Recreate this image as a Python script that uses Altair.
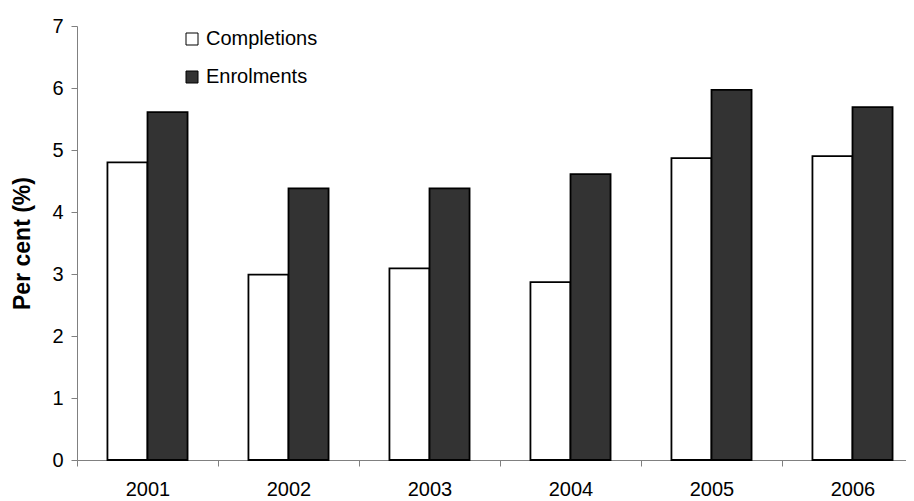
import altair as alt
import pandas as pd

years = ["2001", "2002", "2003", "2004", "2005", "2006"]
series = ["Completions", "Enrolments"]
completions = [4.80, 2.99, 3.09, 2.87, 4.87, 4.90]
enrolments = [5.61, 4.38, 4.38, 4.61, 5.97, 5.69]
y_ticks = [0, 1, 2, 3, 4, 5, 6, 7]

rows = []
for i, yr in enumerate(years):
    rows.append({"year": yr, "series": "Completions", "value": completions[i]})
    rows.append({"year": yr, "series": "Enrolments", "value": enrolments[i]})
df = pd.DataFrame(rows)

font = "Liberation Sans"

chart = alt.Chart(df).mark_bar(stroke="black", strokeWidth=1.8).encode(
    x=alt.X(
        "year:N", sort=years, title=None,
        scale=alt.Scale(range=[0, 846], paddingInner=0, paddingOuter=0),
        axis=alt.Axis(labelAngle=0, tickBand="extent", labelFontSize=20, labelFont=font,
                      labelColor="black", domainColor="#808080", tickColor="#808080",
                      tickSize=6, labelPadding=13, grid=False),
    ),
    xOffset=alt.XOffset("series:N", sort=series,
                        scale=alt.Scale(paddingOuter=0.76, paddingInner=0)),
    y=alt.Y(
        "value:Q", title="Per cent (%)",
        scale=alt.Scale(domain=[0, 7], nice=False),
        axis=alt.Axis(values=y_ticks, tickSize=6, labelPadding=8, grid=False,
                      labelFontSize=20, labelFont=font, labelColor="black",
                      domainColor="#808080", tickColor="#808080",
                      titleFont=font, titleFontSize=23, titleFontWeight="bold",
                      titleColor="black", titlePadding=17),
    ),
    color=alt.Color(
        "series:N", sort=series,
        scale=alt.Scale(domain=series, range=["white", "#333333"]),
        legend=alt.Legend(title=None, orient="none", legendX=105, legendY=3,
                          symbolType="square", symbolSize=144,
                          symbolStrokeColor="black", symbolStrokeWidth=1,
                          labelFontSize=20, labelFont=font, labelColor="black",
                          rowPadding=18, padding=0, labelOffset=4),
    ),
).properties(
    width=829, height=434,
    padding={"left": 69, "top": 18, "right": 0, "bottom": 39},
    autosize=alt.AutoSizeParams(type="none"),
).configure_view(stroke=None)

chart.save("out.html", embed_options={"renderer": "svg", "actions": False})
